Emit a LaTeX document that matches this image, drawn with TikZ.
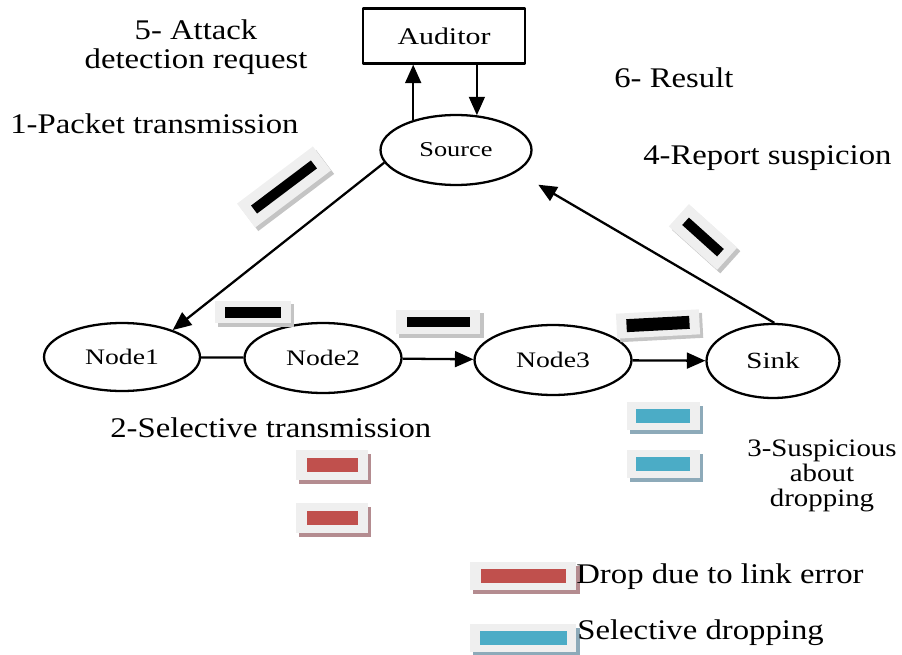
\documentclass[tikz,border=0pt]{standalone}
\usepackage{fontspec}
\setmainfont{Liberation Serif}[FakeStretch=1.15]
\newfontfamily\nodefont{Liberation Serif}[FakeStretch=1.25]
\usetikzlibrary{arrows.meta,shapes.geometric,shadows,positioning}
\definecolor{boxgray}{RGB}{239,239,239}
\definecolor{linkred}{RGB}{192,80,77}
\definecolor{selblue}{RGB}{75,172,198}
\definecolor{shadegray}{RGB}{196,196,196}
\definecolor{shadered}{RGB}{180,140,144}
\definecolor{shadeblue}{RGB}{141,170,185}
\tikzset{
  host/.style={ellipse,draw,line width=1.3pt,inner sep=0pt,font=\nodefont\fontsize{12.6}{14}\selectfont},
  lbl/.style={inner sep=0pt,font=\fontsize{16.2}{16.4}\selectfont},
  pkt/.style={fill=boxgray,inner sep=0pt,drop shadow={shadow xshift=1.8pt,shadow yshift=-2pt,fill=#1,opacity=1}},
  pktbar/.style={fill=#1,inner sep=0pt},
  wire/.style={line width=1.3pt},
}

\begin{document}
\begin{tikzpicture}[x=0.02cm,y=-0.02cm,line join=round,>={Triangle[length=10.5pt,width=9pt]}]
\useasboundingbox (0,0) rectangle (902,655);

% Auditor und Knoten
\node[draw,line width=1.3pt,minimum width=3.24cm,minimum height=1.1cm,font=\nodefont\fontsize{13.6}{15}\selectfont] (aud) at (444,36) {Auditor};
\node[host,minimum width=3.02cm,minimum height=1.4cm,font=\nodefont\fontsize{12}{14}\selectfont] (src) at (456,150) {Source};
\node[host,minimum width=3.12cm,minimum height=1.36cm] (n1) at (122,357) {Node1};
\node[host,minimum width=3.14cm,minimum height=1.4cm] (n2) at (323,358) {Node2};
\node[host,minimum width=3.14cm,minimum height=1.4cm] (n3) at (553,360) {Node3};
\node[host,minimum width=2.66cm,minimum height=1.48cm,font=\nodefont\fontsize{13.2}{14}\selectfont] (sink) at (773,361) {Sink};

% Verbindungen
\draw[wire,->] (src.190) -- (n1.28);
\draw[wire] (n1) -- (n2);
\draw[wire,->] (n2) -- (n3);
\draw[wire,->] (n3) -- (sink);
\draw[wire,->,shorten >=0.5cm] (sink.88) -- (src.-20);
\draw[wire,->] (src.145) -- (src.145 |- aud.south);
\draw[wire,->] (src.59 |- aud.south) -- (src.59);

% Pakete (schwarz)
\node[pkt=shadegray,rotate=37,minimum width=1.9cm,minimum height=0.6cm] (pk1) at (284,187) {};
\node[pktbar=black,rotate=37,minimum width=1.5cm,minimum height=0.2cm] (pk1bar) at (pk1) {};
\node[pkt=shadegray,minimum width=1.52cm,minimum height=0.46cm] (pk2) at (253,312) {};
\node[pktbar=black,minimum width=1.14cm,minimum height=0.22cm] (pk2bar) at (pk2) {};
\node[pkt=shadegray,minimum width=1.7cm,minimum height=0.5cm] (pk3) at (438,322) {};
\node[pktbar=black,minimum width=1.26cm,minimum height=0.2cm] (pk3bar) at (pk3) {};
\node[pkt=shadegray,rotate=3,minimum width=1.66cm,minimum height=0.5cm] (pk4) at (658,324) {};
\node[pktbar=black,rotate=3,minimum width=1.26cm,minimum height=0.26cm] (pk4bar) at (pk4) {};
\node[pkt=shadegray,rotate=-42,minimum width=1.3cm,minimum height=0.6cm] (pk5) at (703,237) {};
\node[pktbar=black,rotate=-42,minimum width=0.94cm,minimum height=0.2cm] (pk5bar) at (pk5) {};

% verworfene Pakete
\foreach \i/\y in {1/465,2/518}{
  \node[pkt=shadered,minimum width=1.44cm,minimum height=0.6cm] (red\i) at (332,\y) {};
  \node[pktbar=linkred,minimum width=1.02cm,minimum height=0.28cm] (red\i bar) at (red\i) {};
}
\foreach \i/\y in {1/416,2/464}{
  \node[pkt=shadeblue,minimum width=1.46cm,minimum height=0.56cm] (blue\i) at (663,\y) {};
  \node[pktbar=selblue,minimum width=1.08cm,minimum height=0.28cm] (blue\i bar) at (blue\i) {};
}

% Legende
\node[pkt=shadered,minimum width=2.14cm,minimum height=0.56cm] (keyred) at (523,576) {};
\node[pktbar=linkred,minimum width=1.7cm,minimum height=0.28cm] (keyredbar) at (keyred) {};
\node[pkt=shadeblue,minimum width=2.14cm,minimum height=0.56cm] (keyblue) at (523,638) {};
\node[pktbar=selblue,minimum width=1.74cm,minimum height=0.28cm] (keybluebar) at (keyblue) {};
\node[lbl,anchor=west] (keyredtxt) at (576,577) {Drop due to link error};
\node[lbl,anchor=west] (keybluetxt) at (577,633) {Selective dropping};

% Beschriftungen
\node[lbl,align=center] (atk) at (196,47) {5- Attack\\detection request};
\node[lbl,anchor=west] (tx) at (10,124) {1-Packet transmission};
\node[lbl,anchor=west] (res) at (614,78) {6- Result};
\node[lbl,anchor=west] (rep) at (643,158) {4-Report suspicion};
\node[lbl,anchor=west] (sel) at (110,428) {2-Selective transmission};
\node[inner sep=0pt,align=center,font=\fontsize{14.3}{14.2}\selectfont] (susp) at (822,476) {3-Suspicious\\about\\dropping};
\end{tikzpicture}
\end{document}
